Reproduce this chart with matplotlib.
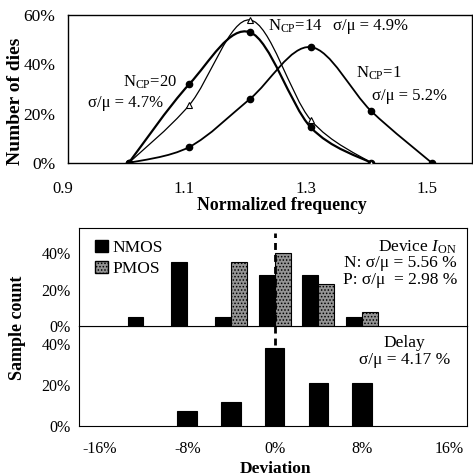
import numpy as np
import matplotlib
matplotlib.use('Agg')
import matplotlib.pyplot as plt
import matplotlib.transforms as mtransforms
from matplotlib.path import Path
from matplotlib.patches import PathPatch, Patch

plt.rcParams['font.family'] = ['Liberation Serif', 'DejaVu Serif']
plt.rcParams['mathtext.fontset'] = 'custom'
plt.rcParams['mathtext.rm'] = 'Liberation Serif'
plt.rcParams['mathtext.it'] = 'Liberation Serif:italic'
plt.rcParams['hatch.linewidth'] = 0.7

# ---- data: top chart (normalized frequency distribution) ----
freq = [1.0, 1.1, 1.2, 1.3, 1.4, 1.5]
ncp20 = [0, 32, 53, 14.5, 0]
ncp14 = [0, 23.5, 58, 17.5, 0]
ncp1 = [0, 6.5, 26, 47, 21, 0]
top_xticks = [0.9, 1.1, 1.3, 1.5]
top_yticks = [0, 20, 40, 60]

# ---- data: bottom chart (deviation histograms) ----
dev_bins = [-12, -8, -4, 0, 4, 8]
nmos = [5, 35, 5, 28, 28, 5]
pmos = [0, 0, 35, 40.5, 23, 7.7]
delay_bins = [-8, -4, 0, 4, 8]
delay = [7.4, 12, 38, 21.3, 21.3]
dev_ticks = [-16, -8, 0, 8, 16]
dev_yticks = [0, 20, 40]

W, H = 473, 476
fig = plt.figure(figsize=(W / 100, H / 100), dpi=100)


def fx(px):
    return px / W


def fy(py):
    return 1 - py / H


def smooth_path(xs, ys):
    pts = np.column_stack([xs, ys]).astype(float)
    ext = np.vstack([pts[0], pts, pts[-1]])
    verts = [pts[0]]
    codes = [Path.MOVETO]
    for i in range(len(pts) - 1):
        p0, p1, p2, p3 = ext[i], ext[i + 1], ext[i + 2], ext[i + 3]
        c1 = p1 + (p2 - p0) / 6
        c2 = p2 - (p3 - p1) / 6
        verts += [c1, c2, p2]
        codes += [Path.CURVE4] * 3
    return Path(verts, codes)


# ================= top chart =================
ax1 = fig.add_axes([fx(68), fy(163), fx(472 - 68), (163 - 15) / H])
ax1.set_xlim(0.901, 1.566)
ax1.set_ylim(0, 60)

ax1.add_patch(PathPatch(smooth_path(freq[:5], ncp20), fill=False, lw=1.6, edgecolor='black', zorder=3))
ax1.add_patch(PathPatch(smooth_path(freq[:5], ncp14), fill=False, lw=0.9, edgecolor='black', zorder=3))
ax1.add_patch(PathPatch(smooth_path(freq, ncp1), fill=False, lw=1.3, edgecolor='black', zorder=3))
ax1.plot(freq[:5], ncp20, ls='none', marker='o', ms=4.5, color='black', zorder=4)
ax1.plot(freq[:5], ncp14, ls='none', marker='^', ms=5, mfc='white', mec='black', mew=0.8, zorder=4)
ax1.plot(freq, ncp1, ls='none', marker='o', ms=4.5, color='black', zorder=4)

ax1.set_xticks(top_xticks)
ax1.set_xticklabels([f'{v:.1f}' for v in top_xticks], fontsize=12)
ax1.set_yticks(top_yticks)
ax1.set_yticklabels([f'{v}%' for v in top_yticks], fontsize=12.5)
ax1.tick_params(axis='x', length=0, pad=13)
ax1.tick_params(axis='y', length=0, pad=9)
shift = mtransforms.ScaledTranslation(-5 / 100, 0, fig.dpi_scale_trans)
for lab in ax1.get_xticklabels():
    lab.set_transform(lab.get_transform() + shift)
for s in ax1.spines.values():
    s.set_linewidth(1.0)

tk = dict(fontsize=12, va='center', ha='left')
fig.text(fx(268), fy(26), r'N$_{\rm CP}$=14', **tk)
fig.text(fx(333), fy(26), 'σ/μ = 4.9%', **tk)
fig.text(fx(123), fy(82), r'N$_{\rm CP}$=20', **tk)
fig.text(fx(88), fy(103), 'σ/μ = 4.7%', **tk)
fig.text(fx(356), fy(73), r'N$_{\rm CP}$=1', **tk)
fig.text(fx(372), fy(96), 'σ/μ = 5.2%', **tk)

fig.text(fx(16), fy(101), 'Number of dies', rotation=90, fontsize=14, fontweight='bold',
         ha='center', va='center')
fig.text(fx(282), fy(206), 'Normalized frequency', fontsize=12.8, fontweight='bold',
         ha='center', va='center')

# ================= bottom chart =================
xl = (-17.9, 17.6)
ax2 = fig.add_axes([fx(79), fy(326), fx(467 - 79), (326 - 228) / H])
ax3 = fig.add_axes([fx(79), fy(426), fx(467 - 79), (426 - 326) / H])
ax2.set_zorder(3)

pm_face = '#949494'
bw = 1.46
nx = [b for b, v in zip(dev_bins, nmos) if v > 0]
nv = [v for v in nmos if v > 0]
px_ = [b for b, v in zip(dev_bins, pmos) if v > 0]
pv = [v for v in pmos if v > 0]
ax2.bar(np.array(nx) - bw, nv, width=bw, align='edge', color='black', edgecolor='black', lw=0.8, zorder=2)
ax2.bar(np.array(px_), pv, width=bw, align='edge', color=pm_face, edgecolor='black', lw=0.8,
        hatch='.....', zorder=2)
ax2.set_xlim(*xl)
ax2.set_ylim(0, 54)
ax2.set_xticks([])
ax2.set_yticks(dev_yticks)
ax2.set_yticklabels([f'{v}%' for v in dev_yticks], fontsize=11.5)
ax2.tick_params(axis='y', length=0, pad=6)

ax2.plot([0, 0], [-10.5, 51], color='black', lw=2, dashes=(2.5, 1.8), clip_on=False, zorder=5)

handles = [Patch(facecolor='black', edgecolor='black', label='NMOS'),
           Patch(facecolor=pm_face, edgecolor='black', hatch='.....', label='PMOS')]
ax2.legend(handles=handles, loc='upper left', bbox_to_anchor=(0.04, 0.88), frameon=False,
           fontsize=12.5, handlelength=0.75, handleheight=0.75, handletextpad=0.3,
           labelspacing=0.25, borderaxespad=0, borderpad=0)

ax3.bar(delay_bins, delay, width=1.8, color='black', edgecolor='black', lw=0.8, zorder=2)
ax3.set_xlim(*xl)
ax3.set_ylim(0, 49)
ax3.set_xticks(dev_ticks)
ax3.set_xticklabels([f'{v}%' for v in dev_ticks], fontsize=11.5)
ax3.set_yticks(dev_yticks)
ax3.set_yticklabels([f'{v}%' for v in dev_yticks], fontsize=11.5)
ax3.tick_params(axis='x', length=0, pad=11)
ax3.tick_params(axis='y', length=0, pad=6)

tr = dict(fontsize=12.5, va='center', ha='right')
fig.text(fx(457), fy(247), r'Device $I_{\rm ON}$', **tr)
fig.text(fx(457), fy(263), 'N: σ/μ = 5.56 %', **tr)
fig.text(fx(457), fy(280), 'P: σ/μ  = 2.98 %', **tr)
fig.text(fx(404), fy(343), 'Delay', fontsize=12.5, va='center', ha='center')
fig.text(fx(405), fy(360), 'σ/μ = 4.17 %', fontsize=12.5, va='center', ha='center')

fig.text(fx(18), fy(328), 'Sample count', rotation=90, fontsize=13, fontweight='bold',
         ha='center', va='center')
fig.text(fx(275), fy(469), 'Deviation', fontsize=12.5, fontweight='bold', ha='center', va='center')

fig.savefig('out.png', dpi=100)
